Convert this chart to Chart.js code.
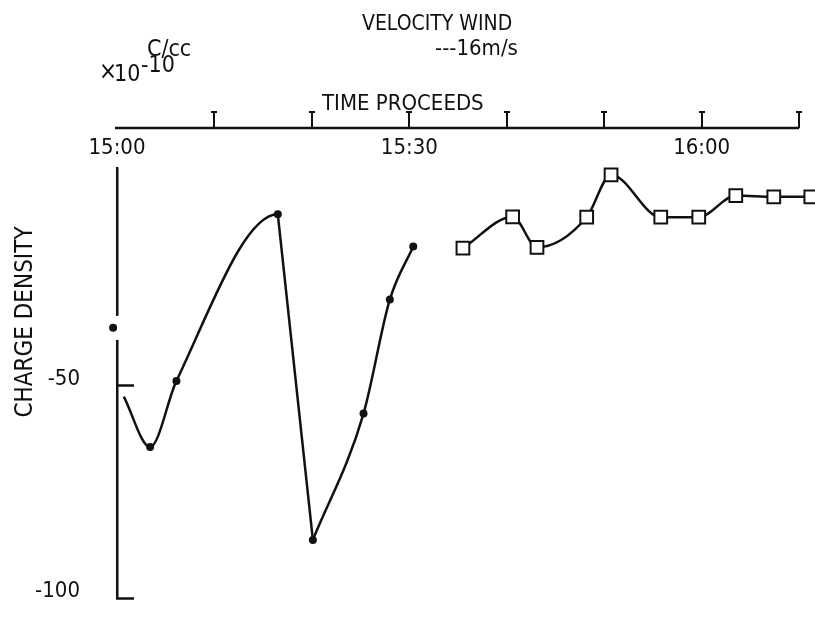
<!DOCTYPE html>
<html>
<head>
<meta charset="utf-8">
<title>Charge density - time proceeds</title>
<script src="https://cdn.jsdelivr.net/npm/chart.js@4.4.1/dist/chart.umd.min.js"></script>
<style>
  html, body { margin: 0; padding: 0; background: #fff; overflow: hidden; }
  canvas { display: block; }
</style>
</head>
<body>
<canvas id="chart" width="815" height="630"></canvas>
<script>
'use strict';

// time axis, minutes after 15:00
const tickMinutes = [0, 10, 20, 30, 40, 50, 60, 70];
const tickLabels = ['15:00', '', '', '15:30', '', '', '16:00', ''];
const yTickValues = [-100, -50];

// charge density (x10^-10 C/cc), dot series (null = pen lifted)
const dotMinutes = [-0.4, 0.3, 0.7, 3.4, 6.1, 16.5, 20.1, 25.3, 28.0, 30.4];
const dotValues = [-36.3, null, -52.5, -64.4, -48.8, -9.5, -86.3, -56.5, -29.6, -17.1];

// square series
const squareMinutes = [35.5, 40.6, 43.1, 48.2, 50.7, 55.8, 59.7, 63.5, 67.4, 71.2];
const squareValues = [-17.5, -10.1, -17.3, -10.2, -0.2, -10.2, -10.2, -5.1, -5.4, -5.4];

const INK = '#111';
const FONT = '"Liberation Sans Narrow", "DejaVu Sans Condensed", "Noto Sans", sans-serif';

const ChargeChart = (() => {
  // the pen runs straight from the peak down to the trough
  const PEAK = 5;
  const TROUGH = 6;

  /**
   * Zip x/y arrays into point objects for a linear x scale.
   */
  function toPoints(xs, ys) {
    return xs.map((x, i) => ({ x, y: ys[i] }));
  }

  /**
   * The vertical axis is broken where the lone first dot sits on it.
   */
  const axisBreak = {
    id: 'axisBreak',
    beforeDatasetsDraw(chart) {
      const dot = chart.getDatasetMeta(0).data[0];
      if (!dot) return;
      const { ctx, chartArea } = chart;
      ctx.save();
      ctx.fillStyle = '#fff';
      ctx.fillRect(chartArea.left - 3, dot.y - 12, 6, 24);
      ctx.restore();
    }
  };

  /**
   * Top time axis (line + "I" ticks) and the free labels.
   */
  const annotations = {
    id: 'annotations',
    afterDraw(chart) {
      const { ctx, chartArea } = chart;
      const x = chart.scales.x;
      ctx.save();
      ctx.strokeStyle = INK;
      ctx.fillStyle = INK;
      ctx.lineWidth = 2.5;

      const axisY = chartArea.top - 40;
      ctx.beginPath();
      ctx.moveTo(x.getPixelForValue(tickMinutes[0]) - 2, axisY);
      ctx.lineTo(x.getPixelForValue(tickMinutes[tickMinutes.length - 1]), axisY);
      ctx.stroke();

      ctx.lineWidth = 2;
      tickMinutes.slice(1).forEach(m => {
        const px = Math.round(x.getPixelForValue(m));
        ctx.beginPath();
        ctx.moveTo(px, axisY);
        ctx.lineTo(px, axisY - 16);
        ctx.moveTo(px - 3, axisY - 16);
        ctx.lineTo(px + 3, axisY - 16);
        ctx.stroke();
      });

      ctx.textBaseline = 'alphabetic';
      ctx.textAlign = 'left';
      ctx.font = `23px ${FONT}`;
      ctx.fillText('C/cc', 147, 56);
      ctx.font = `21px ${FONT}`;
      ctx.fillText('VELOCITY WIND', 362, 30);
      ctx.font = `22px ${FONT}`;
      ctx.fillText('---16m/s', 435, 55);
      ctx.fillText('TIME PROCEEDS', 322, 110);

      // x10^-10
      ctx.font = `24px ${FONT}`;
      ctx.fillText('\u00d7', 99, 79);
      ctx.font = `23px ${FONT}`;
      ctx.fillText('10', 114, 81);
      ctx.fillText('-10', 141, 72);

      // vertical axis title
      ctx.save();
      ctx.translate(32, 322);
      ctx.rotate(-Math.PI / 2);
      ctx.textAlign = 'center';
      ctx.font = `24px ${FONT}`;
      ctx.fillText('CHARGE DENSITY', 0, 0);
      ctx.restore();

      ctx.restore();
    }
  };

  function lineStyle(extra) {
    return Object.assign({
      borderColor: INK,
      borderWidth: 2.5,
      clip: false,
      pointRadius: 0,
      cubicInterpolationMode: 'monotone'
    }, extra);
  }

  function render(canvasId) {
    const canvas = document.getElementById(canvasId);
    if (!canvas || typeof Chart === 'undefined') return null;

    return new Chart(canvas.getContext('2d'), {
      type: 'line',
      data: {
        datasets: [
          lineStyle({
            label: 'dots',
            data: toPoints(dotMinutes, dotValues),
            spanGaps: false,
            pointRadius: c => (c.dataIndex === 2 ? 0 : 4),
            pointBackgroundColor: INK,
            pointBorderWidth: 0,
            segment: {
              borderColor: c => (c.p0DataIndex >= PEAK ? 'rgba(0,0,0,0)' : undefined)
            }
          }),
          lineStyle({
            label: 'dots drop',
            data: toPoints(dotMinutes.slice(PEAK, TROUGH + 1), dotValues.slice(PEAK, TROUGH + 1)),
            tension: 0,
            cubicInterpolationMode: 'default'
          }),
          lineStyle({
            label: 'dots rise',
            data: toPoints(dotMinutes.slice(TROUGH), dotValues.slice(TROUGH))
          }),
          lineStyle({
            label: 'squares',
            data: toPoints(squareMinutes, squareValues),
            pointStyle: 'rect',
            pointRadius: 9,
            pointBackgroundColor: '#fff',
            pointBorderColor: INK,
            pointBorderWidth: 2
          })
        ]
      },
      options: {
        responsive: false,
        animation: false,
        layout: { padding: { left: 0, top: 0, right: 2, bottom: 32 } },
        plugins: {
          legend: { display: false },
          tooltip: { enabled: false }
        },
        scales: {
          x: {
            type: 'linear',
            position: 'top',
            min: 0,
            max: 70.5,
            afterFit: s => {
              s.height = 168;
              s.paddingLeft = 0;
              s.paddingRight = 0;
            },
            afterBuildTicks: s => { s.ticks = tickMinutes.map(v => ({ value: v })); },
            grid: { display: false, drawTicks: false },
            border: { display: false },
            ticks: {
              autoSkip: false,
              maxRotation: 0,
              padding: 7,
              color: INK,
              font: { family: FONT, size: 22 },
              callback: v => tickLabels[tickMinutes.indexOf(v)] || ''
            }
          },
          y: {
            type: 'linear',
            min: -100,
            max: 1.4,
            afterFit: s => {
              s.width = 117;
              s.paddingTop = 0;
              s.paddingBottom = 0;
            },
            afterBuildTicks: s => { s.ticks = yTickValues.map(v => ({ value: v })); },
            grid: {
              drawOnChartArea: false,
              drawTicks: true,
              tickLength: -17,
              tickWidth: 2.5,
              color: INK
            },
            border: { display: true, color: INK, width: 2.5 },
            ticks: {
              padding: 54,
              labelOffset: -7,
              color: INK,
              font: { family: FONT, size: 22 }
            }
          }
        }
      },
      plugins: [axisBreak, annotations]
    });
  }

  return { render };
})();

ChargeChart.render('chart');
</script>
</body>
</html>
